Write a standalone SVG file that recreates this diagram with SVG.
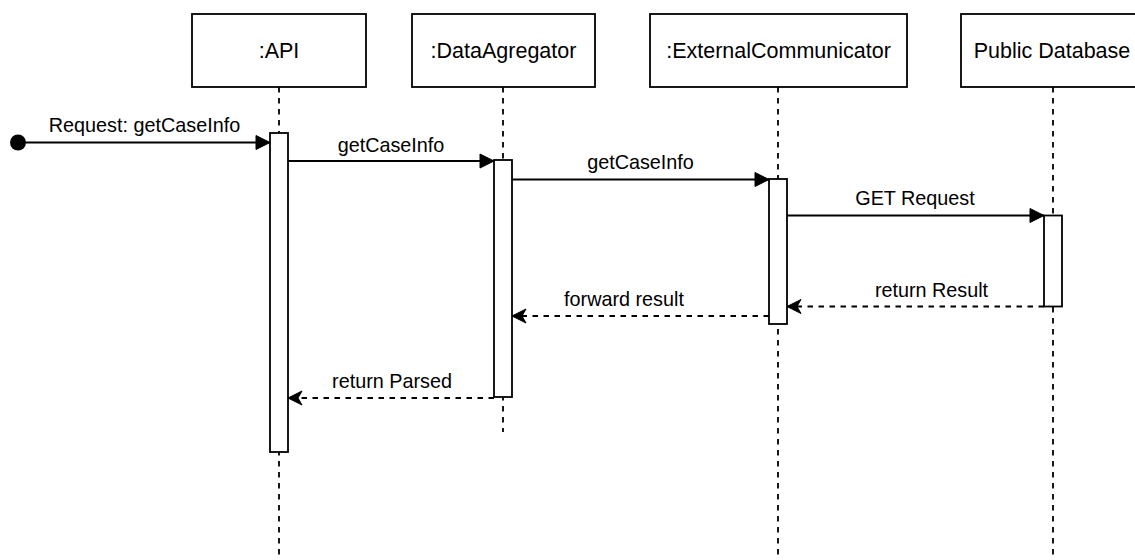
<svg xmlns="http://www.w3.org/2000/svg" width="1135" height="560" viewBox="0 0 1135 560">
  <style>
    .box { fill: #ffffff; stroke: #000000; stroke-width: 1.8; }
    .bar { fill: #ffffff; stroke: #000000; stroke-width: 1.8; }
    .life { stroke: #000000; stroke-width: 1.8; stroke-dasharray: 5.5 5.5; fill: none; }
    .msg { stroke: #000000; stroke-width: 1.8; fill: none; }
    .ret { stroke: #000000; stroke-width: 1.8; fill: none; stroke-dasharray: 5.5 5.5; }
    .ntxt { font-family: "Liberation Sans", Arial, sans-serif; font-size: 21.5px; fill: #000000; text-anchor: middle; }
    .mtxt { font-family: "Liberation Sans", Arial, sans-serif; font-size: 19.8px; fill: #000000; text-anchor: middle; }
  </style>
  <defs>
    <marker id="block" markerUnits="userSpaceOnUse" markerWidth="16" markerHeight="16" viewBox="0 0 16 16" refX="15" refY="8" orient="auto">
      <path d="M1,1 L15,8 L1,15 Z" fill="#000000" stroke="#000000" stroke-width="1"/>
    </marker>
    <marker id="classic" markerUnits="userSpaceOnUse" markerWidth="16" markerHeight="16" viewBox="0 0 16 16" refX="15" refY="8" orient="auto">
      <path d="M1,1 L15,8 L1,15 L5,8 Z" fill="#000000" stroke="#000000" stroke-width="1" stroke-linejoin="miter"/>
    </marker>
  </defs>

  <g id="lifelines">
    <line class="life" x1="279" y1="87" x2="279" y2="560"/>
    <line class="life" x1="503" y1="87" x2="503" y2="432"/>
    <line class="life" x1="778" y1="87" x2="778" y2="560"/>
    <line class="life" x1="1053" y1="87" x2="1053" y2="560"/>
  </g>

  <g id="api">
    <rect class="box" x="192" y="14" width="174" height="73"/>
    <text class="ntxt" x="279" y="57.5">:API</text>
    <rect class="bar" x="270" y="133" width="18" height="319"/>
  </g>
  <g id="dataagregator">
    <rect class="box" x="412" y="14" width="183" height="73"/>
    <text class="ntxt" x="503.5" y="57.5">:DataAgregator</text>
    <rect class="bar" x="494" y="160" width="18" height="237"/>
  </g>
  <g id="externalcommunicator">
    <rect class="box" x="650" y="14" width="257" height="73"/>
    <text class="ntxt" x="778.5" y="57.5">:ExternalCommunicator</text>
    <rect class="bar" x="769" y="179" width="18" height="145"/>
  </g>
  <g id="publicdatabase">
    <rect class="box" x="961" y="14" width="184" height="73"/>
    <text class="ntxt" x="1052" y="57.5">Public Database</text>
    <rect class="bar" x="1044" y="215.5" width="18" height="91"/>
  </g>

  <g id="connectors">
    <circle cx="18" cy="142.5" r="8" fill="#000000"/>
    <line class="msg" x1="18" y1="142.5" x2="270" y2="142.5" marker-end="url(#block)"/>
    <text class="mtxt" x="144.5" y="132">Request: getCaseInfo</text>

    <line class="msg" x1="288" y1="161" x2="494" y2="161" marker-end="url(#block)"/>
    <text class="mtxt" x="391" y="151.5">getCaseInfo</text>

    <line class="msg" x1="512" y1="179.5" x2="769" y2="179.5" marker-end="url(#block)"/>
    <text class="mtxt" x="640.5" y="168.5">getCaseInfo</text>

    <line class="msg" x1="787" y1="215.5" x2="1044" y2="215.5" marker-end="url(#block)"/>
    <text class="mtxt" x="915" y="204.5">GET Request</text>

    <line class="ret" x1="1044" y1="306.5" x2="787" y2="306.5" marker-end="url(#classic)"/>
    <text class="mtxt" x="931.5" y="296.5">return Result</text>

    <line class="ret" x1="769" y1="316" x2="512" y2="316" marker-end="url(#classic)"/>
    <text class="mtxt" x="624" y="306">forward result</text>

    <line class="ret" x1="494" y1="398" x2="288" y2="398" marker-end="url(#classic)"/>
    <text class="mtxt" x="392" y="388">return Parsed</text>
  </g>
</svg>
